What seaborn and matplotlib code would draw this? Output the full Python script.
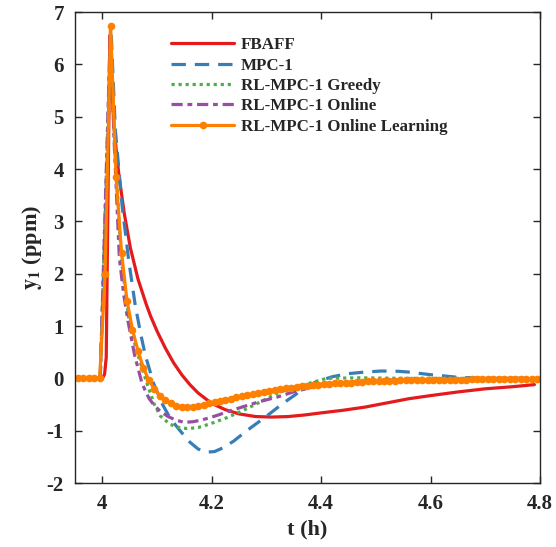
import numpy as np
import pandas as pd
import matplotlib
matplotlib.use("Agg")
import matplotlib.pyplot as plt
import seaborn as sns

# ---------------- data ----------------
labels = ["FBAFF", "MPC-1", "RL-MPC-1 Greedy", "RL-MPC-1 Online",
          "RL-MPC-1 Online Learning"]

t_fbaff = [3.95, 4.0, 4.004, 4.007, 4.0135, 4.021, 4.03, 4.04, 4.051, 4.065,
           4.08, 4.0877, 4.1, 4.115, 4.13, 4.145, 4.16, 4.175, 4.2, 4.225, 4.25,
           4.28, 4.31, 4.34, 4.37, 4.4, 4.44, 4.48, 4.52, 4.56, 4.6, 4.65,
           4.7, 4.75, 4.79]
y_fbaff = [0.0, 0.0, 0.08, 0.4, 6.55, 4.8, 3.9, 3.15, 2.5, 1.9,
           1.42, 1.2, 0.9, 0.58, 0.3, 0.07, -0.12, -0.28, -0.48, -0.6, -0.68,
           -0.73, -0.74, -0.73, -0.70, -0.66, -0.61, -0.55, -0.47, -0.39, -0.33, -0.26,
           -0.20, -0.16, -0.12]

t_mpc = [3.95, 3.996, 4.016, 4.0237, 4.036, 4.048, 4.06, 4.07, 4.0785, 4.0937,
         4.11, 4.125, 4.142, 4.16, 4.175, 4.19, 4.205, 4.22, 4.24, 4.264,
         4.298, 4.33, 4.36, 4.39, 4.42, 4.45, 4.48, 4.51, 4.54, 4.56,
         4.6, 4.65, 4.7, 4.79]
y_mpc = [0.0, 0.0, 6.6, 4.74, 3.3, 2.26, 1.40, 0.85, 0.44, -0.1,
         -0.5, -0.78, -1.0, -1.22, -1.35, -1.41, -1.40, -1.33, -1.2, -1.0,
         -0.74, -0.48, -0.26, -0.07, 0.03, 0.09, 0.12, 0.14, 0.135, 0.12,
         0.07, 0.02, 0.0, 0.0]

t_greedy = [3.95, 3.996, 4.015, 4.022, 4.0347, 4.049, 4.062, 4.0815, 4.095, 4.106,
            4.124, 4.14, 4.155, 4.175, 4.197, 4.228, 4.258, 4.289, 4.319, 4.349,
            4.38, 4.41, 4.47, 4.55, 4.65, 4.79]
y_greedy = [0.0, 0.0, 6.6, 4.5, 2.26, 1.08, 0.55, -0.1, -0.5, -0.72,
            -0.88, -0.94, -0.96, -0.94, -0.87, -0.75, -0.61, -0.45, -0.29, -0.17,
            -0.09, 0.0, 0.01, 0.0, 0.0, 0.0]

t_online = [3.95, 3.996, 4.0146, 4.022, 4.031, 4.039, 4.047, 4.059, 4.0725, 4.085,
            4.095, 4.106, 4.12, 4.135, 4.149, 4.165, 4.18, 4.197, 4.212, 4.228,
            4.258, 4.289, 4.319, 4.349, 4.38, 4.41, 4.44, 4.48, 4.55, 4.65, 4.79]
y_online = [0.0, 0.0, 6.65, 4.4, 2.3, 1.6, 1.08, 0.44, -0.1, -0.38,
            -0.52, -0.63, -0.73, -0.8, -0.84, -0.83, -0.80, -0.75, -0.70, -0.64,
            -0.54, -0.44, -0.36, -0.26, -0.18, -0.12, -0.08, -0.05, -0.03, -0.01, 0.0]

# online-learning samples every 0.01 h starting at 3.945 h
t_learn = np.round(3.945 + 0.01 * np.arange(86), 3)
y_learn = [0.0, 0.0, 0.0, 0.0, 0.0, 0.0, 2.0, 6.73, 3.85, 2.40,
           1.48, 0.93, 0.53, 0.20, -0.04, -0.20, -0.33, -0.42, -0.48, -0.52,
           -0.54, -0.55, -0.54, -0.53, -0.51, -0.48, -0.46, -0.44, -0.41, -0.39,
           -0.36, -0.34, -0.32, -0.30, -0.28, -0.26, -0.24, -0.22, -0.21, -0.19,
           -0.18, -0.16, -0.15, -0.14, -0.13, -0.12, -0.11, -0.10, -0.09, -0.09,
           -0.08, -0.08, -0.07, -0.07, -0.06, -0.06, -0.05, -0.05, -0.05, -0.05,
           -0.04, -0.04, -0.04, -0.04, -0.04, -0.03, -0.03, -0.03, -0.03, -0.03,
           -0.03, -0.03, -0.03, -0.02, -0.02, -0.02, -0.02, -0.02, -0.02, -0.02,
           -0.02, -0.02, -0.02, -0.02, -0.02, -0.02]

x_ticks = [4.0, 4.2, 4.4, 4.6, 4.8]
x_ticklabels = ["4", "4.2", "4.4", "4.6", "4.8"]
y_ticks = [-2, -1, 0, 1, 2, 3, 4, 5, 6, 7]

# ---------------- style ----------------
sns.set_theme(style="ticks")
plt.rcParams["font.family"] = ["Liberation Serif", "DejaVu Serif"]
plt.rcParams["font.weight"] = "bold"
plt.rcParams["mathtext.fontset"] = "stix"
plt.rcParams["axes.unicode_minus"] = False
plt.rcParams["axes.edgecolor"] = "#262626"

pal = sns.color_palette("Set1", 5)
c_red, c_blue, c_green, c_purple, c_orange = pal[0], pal[1], pal[2], pal[3], pal[4]

fig = plt.figure(figsize=(5.56, 5.47), dpi=100)
ax = fig.add_axes([0.135, 0.117, 0.836, 0.861])

lw = 2.3
sns.lineplot(x=t_fbaff, y=y_fbaff, ax=ax, color=c_red, lw=lw, label=labels[0])
sns.lineplot(x=t_mpc, y=y_mpc, ax=ax, color=c_blue, lw=lw, label=labels[1])
ax.lines[-1].set_dashes([4.5, 2.8])
sns.lineplot(x=t_greedy, y=y_greedy, ax=ax, color=c_green, lw=lw, label=labels[2])
ax.lines[-1].set_dashes([1.0, 1.2])
sns.lineplot(x=t_online, y=y_online, ax=ax, color=c_purple, lw=lw, label=labels[3])
ax.lines[-1].set_dashes([3.5, 1.5, 1.5, 1.5])
sns.lineplot(x=t_learn, y=y_learn, ax=ax, color=c_orange, lw=lw, marker="o",
             markersize=5.5, markeredgewidth=0, label=labels[4])

ax.set_xlim(3.95, 4.8)
ax.set_ylim(-2, 7)
ax.set_xticks(x_ticks)
ax.set_xticklabels(x_ticklabels)
ax.set_yticks(y_ticks)
ax.tick_params(direction="in", top=True, right=True, length=5, width=1,
               labelsize=15, color="#262626", pad=8)
for lab in ax.get_xticklabels() + ax.get_yticklabels():
    lab.set_fontweight("bold")
for s in ax.spines.values():
    s.set_visible(True)
    s.set_linewidth(1.0)

ax.set_xlabel("t (h)", fontsize=16, fontweight="bold", labelpad=4)
ax.set_ylabel(r"$\mathbf{y_1}$ (ppm)", fontsize=16, fontweight="bold", labelpad=2)

leg = ax.legend(loc="upper left", bbox_to_anchor=(0.174, 0.979), frameon=False,
                prop={"family": "Liberation Serif", "weight": "bold", "size": 12.2},
                handlelength=3.7, labelspacing=0.26, numpoints=1, handletextpad=0.4)

fig.savefig("out.png", dpi=100)
